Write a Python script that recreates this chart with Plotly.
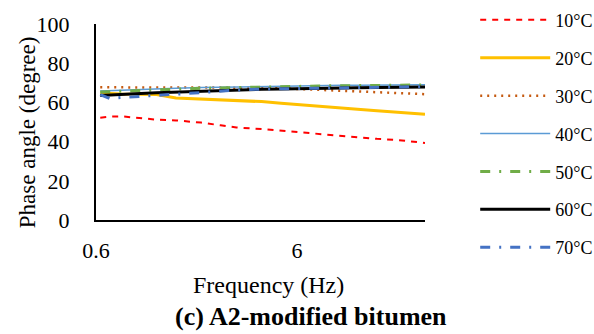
import plotly.graph_objects as go

freq = [0.63, 0.7, 0.8, 1.0, 1.2, 1.5, 2.0, 2.5, 3.0, 4.0, 5.0, 6.0, 8.0, 10.0, 12.0, 15.0, 20.0, 26.0]

t10 = [52.2, 52.7, 52.9, 52.0, 51.2, 50.8, 49.7, 48.3, 47.2, 46.4, 45.5, 44.9, 43.8, 42.8, 42.2, 41.4, 40.6, 39.3]
t20 = [64.8, 64.5, 64.3, 64.2, 64.0, 62.3, 61.8, 61.5, 61.0, 60.4, 59.6, 58.9, 57.9, 57.2, 56.5, 55.8, 55.0, 53.9]
t30 = [67.7, 67.7, 67.7, 67.7, 67.8, 67.8, 67.8, 67.7, 67.7, 67.5, 67.2, 66.8, 66.3, 65.9, 65.6, 65.2, 64.7, 64.2]
t40 = [65.8, 66.0, 66.3, 66.6, 66.9, 67.2, 67.6, 67.8, 68.0, 68.2, 68.4, 68.5, 68.6, 68.7, 68.8, 68.9, 69.0, 69.0]
t50 = [65.3, 65.5, 65.8, 66.2, 66.5, 66.8, 67.2, 67.4, 67.6, 67.8, 68.0, 68.2, 68.4, 68.5, 68.6, 68.7, 68.8, 68.9]
t60 = [63.5, 63.8, 64.1, 64.5, 64.9, 65.3, 65.8, 66.1, 66.4, 66.7, 66.9, 67.1, 67.3, 67.4, 67.5, 67.6, 67.7, 67.8]
t70 = [64.0, 62.0, 62.5, 63.0, 63.6, 64.2, 65.0, 65.8, 66.3, 66.8, 67.0, 67.2, 67.4, 67.6, 67.7, 67.8, 67.9, 68.0]

names = ["10°C", "20°C", "30°C", "40°C", "50°C", "60°C", "70°C"]
series = [t10, t20, t30, t40, t50, t60, t70]
colors = ["#FF0000", "#FFC000", "#C55A11", "#5B9BD5", "#70AD47", "#000000", "#4472C4"]
widths = [2, 3, 2.5, 1.5, 3, 3, 3]
dashes = ["6px,6px", "solid", "2px,5px", "solid", "10px,9px,2px,9px", "solid", "10px,9px,2px,9px"]

x_ticks = [0.6, 6]
x_ticktext = ["0.6", "6"]
y_ticks = [0, 20, 40, 60, 80, 100]

FONT = "Liberation Serif"

fig = go.Figure()
for i, (n, s) in enumerate(zip(names, series)):
    fig.add_trace(go.Scatter(
        x=freq, y=s, name=n, mode="lines", legendgroup=n,
        line=dict(color=colors[i], width=widths[i], dash=dashes[i]),
    ))

fig.update_layout(
    width=594, height=334,
    margin=dict(l=96, r=169, t=19, b=114),
    paper_bgcolor="white", plot_bgcolor="white",
    font=dict(family=FONT, size=20, color="black"),
    showlegend=True,
    legend=dict(
        xref="container", yref="container",
        x=0.80, y=0.995, xanchor="left", yanchor="top",
        font=dict(family=FONT, size=18, color="black"),
        tracegroupgap=11.5, itemwidth=70, maxheight=334,
        bgcolor="rgba(0,0,0,0)",
    ),
    xaxis=dict(
        type="log", range=[-0.2218, 1.415],
        tickvals=x_ticks, ticktext=x_ticktext,
        showgrid=False, zeroline=False,
        showline=True, linecolor="black", linewidth=2,
        ticks="", ticklabelstandoff=10,
        tickfont=dict(family=FONT, size=22),
    ),
    yaxis=dict(
        range=[0, 100], tickvals=y_ticks,
        showgrid=False, zeroline=False,
        showline=True, linecolor="black", linewidth=2,
        ticks="", ticklabelstandoff=20,
        tickfont=dict(family=FONT, size=22),
    ),
    annotations=[
        dict(text="Frequency (Hz)", xref="paper", yref="paper",
             x=0.523, y=-0.333, xanchor="center", yanchor="middle", showarrow=False,
             font=dict(family=FONT, size=24, color="black")),
        dict(text="Phase angle (degree)", xref="paper", yref="paper", textangle=-90,
             x=-0.2097, y=0.448, xanchor="center", yanchor="middle", showarrow=False,
             font=dict(family=FONT, size=23, color="black")),
        dict(text="<b>(c) A2-modified bitumen</b>", xref="paper", yref="paper",
             x=0.653, y=-0.4925, xanchor="center", yanchor="middle", showarrow=False,
             font=dict(family=FONT, size=26, color="black")),
    ],
)

fig.write_html("out.html")
